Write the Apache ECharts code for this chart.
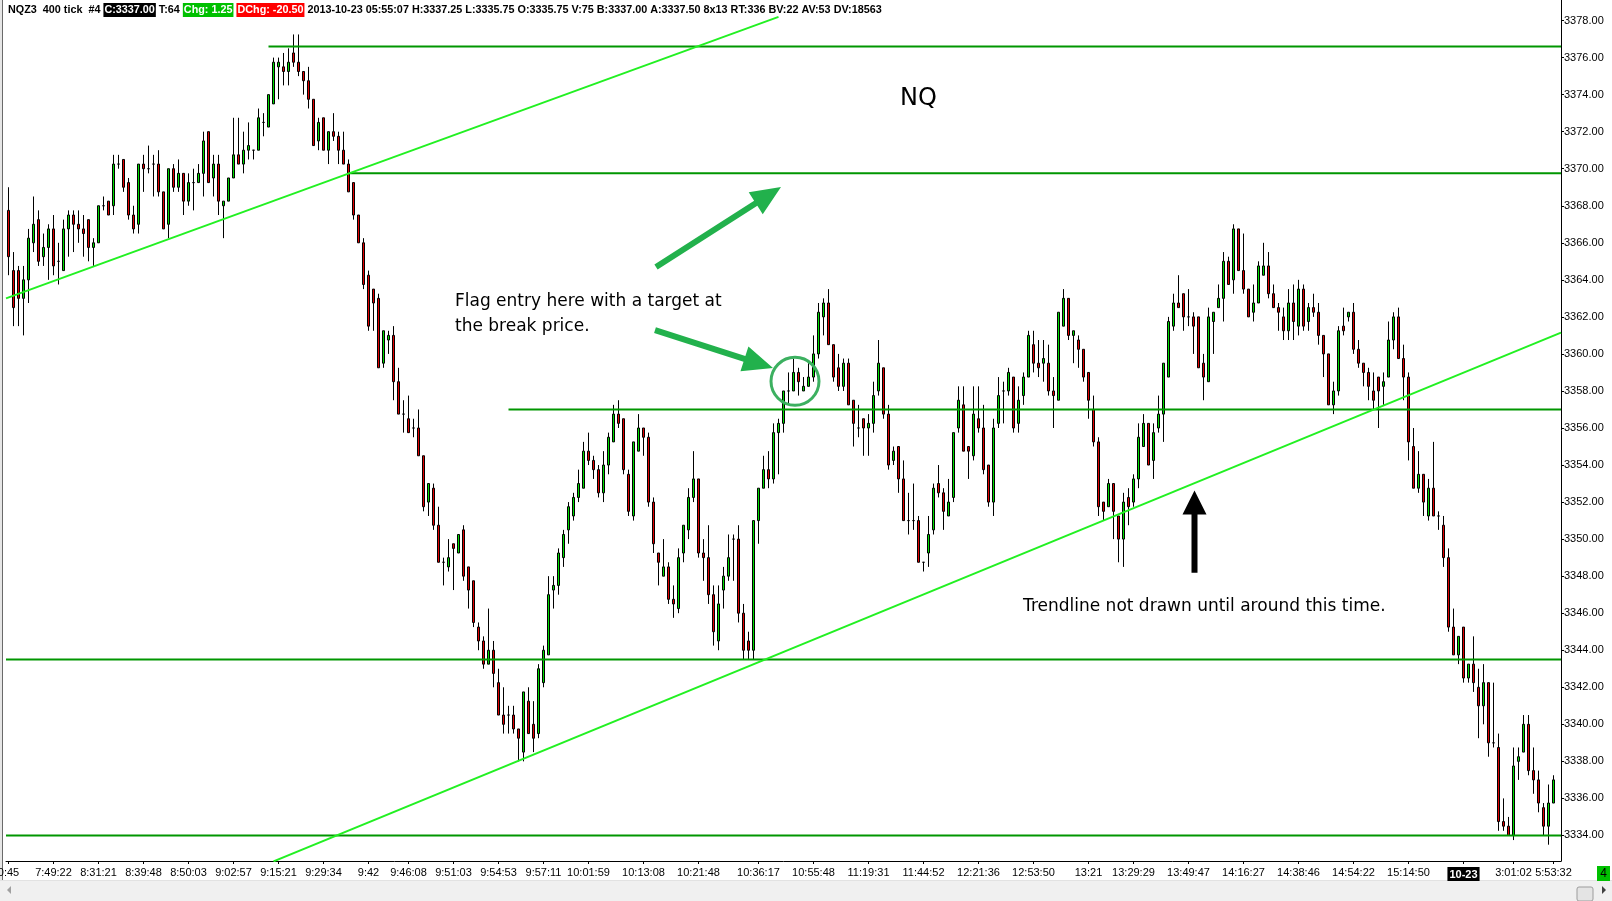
<!DOCTYPE html>
<html><head><meta charset="utf-8">
<script src="https://cdn.jsdelivr.net/npm/echarts@6/dist/echarts.min.js"></script>
<style>html,body{margin:0;padding:0;background:#fff;overflow:hidden}#c{width:1612px;height:901px}</style>
</head><body><div id="c"></div>
<script>
// ---- DATA ----
// each bar: [open, high, low, close]
const bars = [
[3367.75,3369.0,3364.25,3365.25],[3364.5,3365.5,3361.5,3362.5],[3364.5,3364.75,3361.5,3363.0],[3363.0,3364.75,3361.0,3364.0],
[3364.0,3366.75,3362.75,3366.25],[3366.0,3368.5,3365.5,3367.0],[3367.25,3367.75,3364.75,3365.0],[3365.25,3366.5,3364.75,3365.75],
[3365.75,3367.0,3364.0,3366.75],[3366.75,3367.5,3364.25,3364.75],[3365.0,3366.0,3363.75,3365.0],[3364.5,3367.25,3364.5,3366.75],
[3366.75,3367.75,3365.25,3367.5],[3367.5,3367.75,3365.5,3367.0],[3367.0,3367.75,3366.0,3366.75],[3366.75,3367.5,3365.25,3366.5],
[3367.25,3367.25,3365.0,3365.75],[3365.75,3366.25,3364.75,3366.0],[3366.0,3368.0,3366.0,3368.0],[3368.0,3368.5,3367.75,3368.0],
[3368.25,3368.25,3367.5,3367.5],[3368.0,3370.75,3367.5,3370.25],[3370.25,3370.75,3370.0,3370.25],[3370.5,3370.5,3368.75,3369.0],
[3369.25,3369.5,3367.25,3367.5],[3367.5,3368.0,3366.5,3366.75],[3367.0,3370.25,3366.5,3370.25],[3370.25,3370.75,3368.75,3370.0],
[3370.0,3371.25,3369.75,3370.0],[3370.25,3370.75,3368.5,3370.25],[3370.25,3371.0,3368.5,3368.75],[3368.75,3368.75,3366.75,3366.75],
[3367.0,3370.0,3366.25,3370.0],[3370.0,3370.25,3368.75,3369.0],[3369.0,3370.5,3368.75,3369.75],[3369.75,3369.75,3367.5,3368.25],
[3368.25,3369.75,3368.0,3369.25],[3369.25,3370.0,3367.75,3369.25],[3369.25,3370.25,3369.25,3369.75],[3369.75,3372.0,3368.5,3371.5],
[3372.0,3372.0,3369.25,3369.25],[3369.5,3370.75,3368.5,3370.25],[3370.25,3370.75,3367.5,3368.25],[3368.0,3368.25,3366.25,3368.25],
[3368.25,3369.5,3368.25,3369.5],[3369.5,3372.75,3369.5,3370.75],[3370.75,3372.75,3370.25,3370.25],[3370.25,3372.0,3369.75,3371.0],
[3371.0,3372.5,3370.5,3371.25],[3371.0,3371.0,3370.5,3371.0],[3371.0,3373.25,3371.0,3372.75],[3372.5,3373.0,3371.75,3372.5],
[3372.25,3374.0,3372.25,3374.0],[3373.5,3376.0,3373.5,3375.75],[3375.5,3376.0,3373.75,3375.75],[3375.5,3376.25,3374.5,3375.25],
[3375.25,3376.5,3374.5,3375.75],[3376.25,3377.25,3375.5,3375.75],[3375.75,3377.25,3375.0,3375.25],[3375.25,3375.25,3374.0,3374.75],
[3374.75,3375.5,3373.25,3373.75],[3373.75,3373.75,3371.25,3371.25],[3371.5,3372.75,3371.0,3372.5],[3372.75,3372.75,3371.0,3371.0],
[3371.0,3372.0,3370.25,3372.0],[3372.0,3373.0,3371.5,3371.75],[3371.75,3372.0,3370.25,3371.0],[3371.0,3372.0,3370.25,3370.25],
[3370.25,3370.5,3368.75,3368.75],[3369.25,3369.25,3367.25,3367.5],[3367.5,3367.5,3366.0,3366.0],[3366.0,3366.25,3363.5,3363.75],
[3364.25,3364.5,3361.25,3361.5],[3363.5,3363.5,3361.25,3362.75],[3363.0,3363.25,3359.25,3359.25],[3359.5,3361.25,3359.25,3361.25],
[3360.75,3361.25,3360.0,3361.0],[3361.0,3361.5,3357.5,3358.5],[3358.5,3359.25,3356.75,3356.75],[3356.75,3357.5,3355.75,3356.75],
[3356.5,3357.75,3355.75,3355.75],[3356.0,3356.5,3355.5,3356.0],[3356.0,3357.0,3354.5,3354.5],[3354.5,3354.5,3351.5,3351.75],
[3352.0,3353.0,3351.25,3353.0],[3352.75,3353.0,3350.5,3350.75],[3350.75,3351.75,3348.75,3348.75],[3348.75,3349.0,3347.5,3348.75],
[3348.5,3350.0,3348.25,3349.0],[3349.75,3349.75,3347.25,3349.5],[3349.25,3350.25,3349.25,3350.25],[3350.5,3350.75,3347.75,3348.0],
[3348.5,3348.5,3346.25,3347.25],[3347.75,3347.75,3345.25,3345.5],[3345.25,3345.5,3344.0,3344.5],[3344.5,3344.75,3343.0,3343.25],
[3343.25,3346.25,3343.25,3344.0],[3344.0,3344.5,3342.0,3342.75],[3342.25,3343.0,3340.5,3340.5],[3340.5,3342.0,3339.5,3340.0],
[3340.5,3341.0,3339.5,3340.5],[3340.5,3341.0,3339.5,3339.75],[3339.75,3339.75,3338.0,3339.25],[3338.5,3341.75,3338.0,3341.75],
[3341.25,3342.0,3339.5,3339.5],[3340.0,3341.25,3338.5,3339.25],[3339.5,3343.25,3339.25,3343.0],[3342.25,3344.25,3342.0,3344.0],
[3343.75,3348.0,3343.75,3347.0],[3347.25,3348.0,3346.25,3347.5],[3347.5,3349.5,3347.0,3349.25],[3349.0,3350.5,3348.5,3350.25],
[3350.5,3352.0,3349.75,3351.75],[3351.25,3352.5,3351.0,3352.25],[3352.25,3353.75,3352.0,3353.0],[3352.75,3355.25,3352.75,3354.75],
[3354.75,3355.75,3354.0,3354.25],[3354.25,3354.5,3353.25,3353.75],[3353.75,3354.0,3352.25,3352.5],[3352.5,3354.75,3352.0,3354.0],
[3354.0,3355.75,3353.5,3355.5],[3355.25,3357.25,3355.25,3356.75],[3356.75,3357.5,3356.0,3356.25],[3356.5,3356.5,3353.5,3353.75],
[3353.5,3353.75,3351.25,3351.5],[3351.25,3355.25,3351.0,3355.25],[3354.75,3356.75,3354.75,3356.0],[3356.0,3356.0,3354.5,3355.5],
[3355.5,3355.75,3351.75,3352.0],[3352.0,3352.25,3349.25,3349.75],[3349.25,3349.25,3347.5,3348.75],[3348.0,3350.0,3348.0,3348.5],
[3348.5,3348.75,3346.5,3346.75],[3346.75,3347.5,3345.75,3346.5],[3346.25,3349.5,3346.0,3349.0],[3349.25,3350.75,3348.75,3350.75],
[3350.5,3352.75,3350.0,3352.25],[3352.25,3354.75,3352.0,3353.25],[3353.25,3353.25,3349.0,3349.25],[3349.25,3350.0,3347.75,3349.0],
[3349.0,3350.75,3346.5,3347.0],[3347.0,3347.5,3344.25,3345.0],[3344.5,3347.5,3344.0,3346.5],[3347.25,3348.5,3346.25,3348.0],
[3348.0,3350.25,3347.75,3349.0],[3350.0,3350.25,3347.75,3350.0],[3350.0,3350.75,3345.5,3346.0],[3346.0,3346.5,3343.5,3344.0],
[3344.5,3345.0,3343.5,3344.0],[3344.0,3351.0,3343.5,3351.0],[3351.0,3352.75,3349.75,3352.75],[3352.75,3354.5,3352.75,3353.75],
[3353.75,3354.75,3352.75,3353.25],[3353.25,3356.25,3353.0,3355.75],[3355.75,3356.5,3353.5,3356.25],[3356.25,3358.0,3355.75,3358.0],
[3358.0,3359.0,3357.25,3358.0],[3358.0,3359.75,3358.0,3359.0],[3359.0,3359.25,3357.75,3358.5],[3358.0,3358.75,3358.0,3358.25],
[3358.25,3359.5,3358.25,3358.75],[3358.75,3361.0,3358.5,3360.0],[3360.0,3362.75,3359.75,3362.25],[3362.0,3363.0,3361.0,3362.75],
[3362.75,3363.5,3360.5,3360.5],[3360.5,3360.5,3358.5,3358.75],[3359.25,3360.0,3358.0,3358.25],[3358.25,3359.75,3358.0,3359.5],
[3359.5,3359.75,3357.25,3357.25],[3357.5,3357.5,3355.0,3356.25],[3356.0,3357.25,3355.5,3356.0],[3356.5,3356.5,3354.5,3356.0],
[3356.0,3356.75,3354.5,3356.25],[3356.25,3358.5,3355.75,3357.75],[3358.0,3360.75,3357.75,3359.5],[3359.25,3359.25,3356.5,3356.75],
[3356.75,3357.25,3353.75,3354.0],[3354.25,3355.0,3354.0,3354.75],[3355.0,3355.0,3352.5,3353.25],[3353.25,3354.25,3351.0,3351.0],
[3351.0,3352.5,3350.25,3351.0],[3351.0,3353.0,3350.5,3351.0],[3351.0,3351.25,3348.75,3348.75],[3348.75,3348.75,3348.25,3348.75],
[3349.25,3351.25,3348.5,3350.25],[3350.5,3353.0,3350.25,3352.75],[3353.0,3354.0,3352.25,3352.5],[3352.5,3352.75,3350.5,3351.5],
[3351.25,3353.25,3351.25,3352.0],[3352.25,3355.75,3352.0,3355.75],[3356.0,3358.25,3355.75,3357.5],[3357.25,3358.25,3354.75,3354.75],
[3355.0,3355.0,3353.25,3354.75],[3354.5,3358.25,3354.25,3356.75],[3356.5,3358.25,3355.75,3356.0],[3356.0,3357.25,3353.5,3353.75],
[3354.0,3354.0,3351.75,3352.0],[3352.0,3356.5,3351.25,3356.0],[3356.25,3358.75,3356.0,3357.75],[3358.0,3358.5,3356.25,3358.0],
[3358.0,3359.25,3357.75,3359.0],[3358.75,3358.75,3355.75,3356.0],[3356.25,3358.25,3355.75,3357.5],[3357.75,3359.0,3357.25,3358.75],
[3358.75,3361.25,3358.75,3361.0],[3360.5,3361.25,3359.0,3359.5],[3359.5,3360.75,3358.75,3359.25],[3359.5,3360.75,3358.5,3359.75],
[3359.5,3360.5,3357.75,3358.0],[3358.0,3358.75,3356.0,3357.75],[3357.5,3362.25,3357.5,3362.25],[3361.5,3363.5,3361.5,3363.0],
[3363.0,3363.0,3360.75,3361.0],[3361.0,3361.25,3359.5,3361.25],[3360.75,3361.0,3359.25,3360.25],[3360.25,3360.25,3358.5,3358.75],
[3359.0,3359.0,3356.5,3357.5],[3357.0,3357.75,3355.0,3355.25],[3355.25,3355.5,3351.25,3351.75],[3352.0,3352.0,3351.0,3351.5],
[3351.75,3353.25,3351.75,3353.0],[3353.0,3353.0,3350.0,3351.5],[3351.25,3351.25,3348.75,3350.0],[3350.0,3352.5,3348.5,3352.0],
[3352.25,3352.75,3350.75,3351.75],[3352.0,3353.5,3351.75,3353.25],[3353.25,3356.25,3352.75,3355.5],[3355.0,3356.75,3355.0,3356.25],
[3356.25,3356.25,3354.0,3354.0],[3354.25,3356.25,3353.25,3355.75],[3356.0,3357.75,3355.75,3356.75],[3356.75,3359.5,3355.25,3359.5],
[3358.75,3362.0,3358.75,3361.75],[3361.5,3363.25,3361.25,3362.75],[3362.75,3364.25,3362.5,3362.5],[3363.25,3363.25,3361.25,3362.0],
[3362.0,3363.5,3361.5,3362.0],[3362.0,3362.25,3360.0,3361.5],[3362.0,3362.0,3359.25,3359.25],[3359.5,3360.0,3357.5,3358.75],
[3358.5,3362.5,3358.5,3362.0],[3361.75,3362.25,3360.0,3362.25],[3362.5,3363.75,3362.5,3363.0],[3363.0,3365.5,3361.75,3365.0],
[3365.0,3365.25,3363.75,3363.75],[3364.0,3367.0,3363.25,3366.75],[3366.75,3366.75,3364.5,3364.5],[3364.5,3366.5,3363.25,3363.5],
[3363.5,3363.5,3362.0,3362.0],[3362.25,3363.75,3361.75,3362.75],[3362.75,3365.0,3362.75,3364.75],[3364.25,3366.0,3364.25,3364.75],
[3364.75,3365.5,3363.0,3363.25],[3363.25,3363.75,3362.5,3362.5],[3362.5,3362.75,3361.25,3362.25],[3362.0,3362.5,3360.75,3361.25],
[3361.25,3363.5,3360.75,3362.75],[3362.75,3363.75,3360.75,3361.75],[3361.5,3364.0,3361.0,3363.5],[3363.5,3363.75,3361.25,3361.5],
[3361.75,3362.75,3361.25,3362.5],[3362.5,3363.25,3362.0,3362.25],[3362.25,3362.75,3360.5,3361.0],[3361.0,3361.0,3358.75,3360.0],
[3360.0,3360.0,3357.25,3357.25],[3357.25,3358.5,3356.75,3358.0],[3358.0,3361.5,3357.75,3361.25],[3361.5,3362.5,3361.0,3361.25],
[3362.0,3362.25,3361.75,3362.25],[3362.25,3362.75,3360.0,3360.25],[3360.25,3360.75,3359.25,3359.5],[3359.5,3359.5,3358.25,3359.0],
[3359.0,3359.25,3357.5,3358.25],[3358.0,3359.0,3357.0,3357.5],[3358.75,3358.75,3356.0,3358.0],[3358.25,3359.0,3357.25,3358.5],
[3358.75,3361.75,3358.75,3360.75],[3360.75,3362.25,3360.25,3362.0],[3362.0,3362.5,3359.75,3359.75],[3359.75,3360.5,3357.5,3358.75],
[3358.75,3359.0,3354.25,3355.25],[3355.0,3356.0,3352.75,3352.75],[3352.75,3354.75,3352.5,3353.5],[3353.5,3353.5,3351.25,3352.0],
[3351.25,3353.25,3351.0,3352.75],[3352.75,3355.25,3351.25,3351.25],[3351.25,3351.5,3350.5,3351.25],[3350.75,3351.25,3348.5,3349.0],
[3349.0,3349.5,3345.0,3345.25],[3345.25,3346.25,3343.75,3343.75],[3343.75,3344.75,3343.25,3344.75],[3345.25,3345.25,3342.25,3342.5],
[3342.5,3343.25,3342.25,3343.25],[3343.25,3344.75,3341.75,3342.25],[3342.0,3343.0,3339.25,3341.0],[3341.0,3343.25,3340.0,3342.25],
[3342.25,3342.25,3338.25,3339.0],[3339.0,3342.25,3338.75,3339.0],[3338.75,3339.5,3334.25,3334.75],[3334.75,3336.0,3334.25,3334.5],
[3334.5,3335.0,3334.0,3334.0],[3334.0,3338.75,3333.75,3337.75],[3338.0,3338.75,3337.0,3338.25],[3338.5,3340.5,3338.5,3340.0],
[3340.0,3340.5,3337.25,3337.5],[3337.5,3338.75,3336.25,3337.0],[3337.0,3337.5,3335.25,3335.75],[3335.5,3335.75,3334.0,3334.5],
[3334.5,3336.75,3333.5,3335.75],[3335.75,3337.25,3335.75,3337.0]
];
const tickIndex  = [0,9,18,27,36,45,54,63,72,80,89,98,107,116,127,138,150,161,172,183,194,205,216,225,236,247,258,269,280,291,301,309];
const tickLabels = ['0:45','7:49:22','8:31:21','8:39:48','8:50:03','9:02:57','9:15:21','9:29:34','9:42','9:46:08','9:51:03','9:54:53','9:57:11','10:01:59','10:13:08','10:21:48','10:36:17','10:55:48','11:19:31','11:44:52','12:21:36','12:53:50','13:21','13:29:29','13:49:47','14:16:27','14:38:46','14:54:22','15:14:50','10-23','3:01:02','5:53:32'];
const priceTicks = [3334,3336,3338,3340,3342,3344,3346,3348,3350,3352,3354,3356,3358,3360,3362,3364,3366,3368,3370,3372,3374,3376,3378];
const levelPrices = [3376.6, 3369.75, 3357.0, 3343.5, 3334.0];
const levelStarts = [52, 68, 100, -0.5, -0.5];
const trendUpper = [[-0.5, 3363.0], [154, 3378.2]];
const trendLower = [[53, 3332.6], [310.5, 3361.15]];
const headerText = {
  sym: 'NQZ3  400 tick  #4 ', close: 'C:3337.00', ticks: ' T:64 ', chg: 'Chg: 1.25', dchg: 'DChg: -20.50',
  rest: ' 2013-10-23 05:55:07 H:3337.25 L:3335.75 O:3335.75 V:75 B:3337.00 A:3337.50 8x13 RT:336 BV:22 AV:53 DV:18563'
};
// annotations in data space [barIndex, price]
const arrowsSpec = [
  {from: [129.5, 3364.69], to: [154.5, 3369.01], color: '#22b14c'},
  {from: [129.3, 3361.29], to: [152.9, 3359.24], color: '#22b14c'},
  {from: [237.2, 3348.19], to: [237.2, 3352.63], color: '#000000'}
];
const circleSpec = {at: [157.3, 3358.52]};
const textsSpec = [
  {at: [182, 3373.78], text: 'NQ', size: 24, align: 'center'},
  {at: [89.3, 3362.8], text: 'Flag entry here with a target at', size: 17, align: 'left'},
  {at: [89.3, 3361.5], text: 'the break price.', size: 17, align: 'left'},
  {at: [202.9, 3346.34], text: 'Trendline not drawn until around this time.', size: 17, align: 'left'}
];

// ---- CHART ----
const N = bars.length;
const categories = [];
for (let i = 0; i <= N; i++) categories.push('');
tickIndex.forEach((ix, k) => { categories[ix] = tickLabels[k]; });
const tickSet = new Set(tickIndex);
const candleData = bars.map(b => [b[0], b[3], b[2], b[1]]);
const lastClose = bars[N - 1][3];
const AX = '"Liberation Sans",Arial,sans-serif';
const SANS = '"DejaVu Sans",Verdana,sans-serif';
const AXSIZE = 11;

const chart = echarts.init(document.getElementById('c'), null, {renderer: 'canvas'});

const lineSeries = [];
levelPrices.forEach((p, k) => lineSeries.push({
  type: 'line', xAxisIndex: 1, yAxisIndex: 0, data: [[levelStarts[k], p], [N + 0.5, p]],
  symbol: 'none', silent: true, z: 4, lineStyle: {color: '#009600', width: 2}
}));
[trendUpper, trendLower].forEach(t => lineSeries.push({
  type: 'line', xAxisIndex: 1, yAxisIndex: 0, data: t, symbol: 'none', silent: true, z: 4,
  lineStyle: {color: '#22f022', width: 2}
}));

const rt = {fontFamily: AX, fontSize: 10.8, color: '#000'};
chart.setOption({
  animation: false,
  backgroundColor: '#ffffff',
  title: {
    left: 8, top: 3, padding: 0,
    text: '{a|' + headerText.sym + '}{b|' + headerText.close + '}{a|' + headerText.ticks + '}{g|' + headerText.chg + '}{a| }{r|' + headerText.dchg + '}{a|' + headerText.rest + '}',
    textStyle: {rich: {
      a: Object.assign({}, rt),
      b: Object.assign({}, rt, {color: '#fff', backgroundColor: '#000', padding: [2, 1, 1, 1]}),
      g: Object.assign({}, rt, {color: '#fff', backgroundColor: '#00c000', padding: [2, 1, 1, 1]}),
      r: Object.assign({}, rt, {color: '#fff', backgroundColor: '#ff0000', padding: [2, 1, 1, 1]})
    }}
  },
  grid: {left: 6, top: 0, width: 1555, height: 861, containLabel: false, outerBoundsMode: 'none'},
  xAxis: [
    {
      type: 'category', data: categories, boundaryGap: true,
      axisLine: {onZero: false, lineStyle: {color: '#000', width: 1}},
      axisTick: {show: true, alignWithLabel: true, interval: (i) => tickSet.has(i), length: 3, lineStyle: {color: '#000'}},
      axisLabel: {
        interval: (i) => tickSet.has(i), color: '#000', fontFamily: AX, fontSize: AXSIZE, margin: 6,
        showMaxLabel: true, showMinLabel: true, hideOverlap: false,
        formatter: (v) => v === '10-23' ? '{d|10-23}' : v,
        rich: {d: {backgroundColor: '#000', color: '#fff', fontWeight: 'bold', fontFamily: AX, fontSize: AXSIZE, padding: [2, 2, 1, 2]}}
      },
      splitLine: {show: false}
    },
    {type: 'value', min: -0.5, max: N + 0.5, show: false, axisLine: {onZero: false}}
  ],
  yAxis: {
    type: 'value', position: 'right', min: 3332.62, max: 3379.11, scale: true,
    axisLine: {show: true, onZero: false, lineStyle: {color: '#000', width: 1}},
    axisTick: {show: true, length: 3, customValues: priceTicks, lineStyle: {color: '#000'}},
    axisLabel: {customValues: priceTicks, formatter: (v) => v.toFixed(2), color: '#000', fontFamily: AX, fontSize: AXSIZE, margin: 3, showMinLabel: true, showMaxLabel: true},
    splitLine: {show: false}
  },
  series: [
    {
      type: 'candlestick', xAxisIndex: 0, yAxisIndex: 0, data: candleData, barWidth: 3, z: 2,
      itemStyle: {color: '#00dd00', color0: '#e00000', borderColor: '#000', borderColor0: '#000', borderColorDoji: '#000', borderWidth: 1},
      markLine: {
        silent: true, symbol: 'none', animation: false, lineStyle: {opacity: 0},
        label: {show: true, position: 'end', distance: 4, formatter: () => lastClose.toFixed(2),
          backgroundColor: '#000', color: '#fff', fontWeight: 'bold', fontFamily: AX, fontSize: AXSIZE, padding: [2, 1, 1, 1]},
        data: [{yAxis: lastClose}]
      }
    }
  ].concat(lineSeries)
});

function px(pt) { return chart.convertToPixel({xAxisIndex: 1, yAxisIndex: 0}, pt); }
function arrowPoly(t, h, shaft, headLen, headW) {
  const dx = h[0] - t[0], dy = h[1] - t[1], L = Math.hypot(dx, dy);
  const ux = dx / L, uy = dy / L, nx = -uy, ny = ux;
  const bx = h[0] - ux * headLen, by = h[1] - uy * headLen;
  return [
    [t[0] + nx * shaft / 2, t[1] + ny * shaft / 2], [bx + nx * shaft / 2, by + ny * shaft / 2],
    [bx + nx * headW / 2, by + ny * headW / 2], [h[0], h[1]],
    [bx - nx * headW / 2, by - ny * headW / 2], [bx - nx * shaft / 2, by - ny * shaft / 2],
    [t[0] - nx * shaft / 2, t[1] - ny * shaft / 2]
  ];
}
const g = [];
// window frame left edge
g.push({type: 'rect', shape: {x: 0, y: 0, width: 2, height: 880}, style: {fill: '#e6e6e6'}, silent: true});
g.push({type: 'rect', shape: {x: 2, y: 0, width: 1, height: 880}, style: {fill: '#6a6a6a'}, silent: true});
// scrollbar
g.push({type: 'rect', shape: {x: 0, y: 880, width: 1612, height: 21}, style: {fill: '#f0f0f0'}, silent: true});
g.push({type: 'rect', shape: {x: 0, y: 880, width: 1612, height: 1}, style: {fill: '#e2e2e2'}, silent: true});
g.push({type: 'polygon', shape: {points: [[11, 886], [11, 894], [7, 890]]}, style: {fill: '#a0a0a0'}, silent: true});
g.push({type: 'rect', shape: {x: 1577, y: 887, width: 16, height: 14, r: 2}, style: {fill: '#e4e4e4', stroke: '#9c9c9c', lineWidth: 1}, silent: true});
g.push({type: 'polygon', shape: {points: [[1602, 886], [1602, 894], [1606, 890]]}, style: {fill: '#404040'}, silent: true});
// green counter box
g.push({type: 'rect', shape: {x: 1597, y: 866, width: 13, height: 15}, style: {fill: '#00c000'}, silent: true});
g.push({type: 'text', x: 1603.5, y: 874, style: {text: '4', fill: '#000', font: '12px ' + AX, align: 'center', verticalAlign: 'middle', textAlign: 'center', textVerticalAlign: 'middle'}, silent: true});
// arrows
arrowsSpec.forEach((a) => {
  const t = px(a.from), h = px(a.to);
  const isBlack = a.color === '#000000';
  g.push({type: 'polygon', z: 50, silent: true,
    shape: {points: arrowPoly(t, h, 6, isBlack ? 24 : 30, isBlack ? 24 : 26)},
    style: {fill: a.color, lineJoin: 'round'}});
});
// circle
const cc = px(circleSpec.at);
g.push({type: 'circle', z: 50, silent: true, shape: {cx: cc[0], cy: cc[1], r: 24}, style: {fill: 'none', stroke: '#3cb060', lineWidth: 3}});
// texts
textsSpec.forEach(t => {
  const p = px(t.at);
  g.push({type: 'text', z: 50, silent: true, x: p[0], y: p[1],
    style: {text: t.text, fill: '#000', font: t.size + 'px ' + SANS, align: t.align, textAlign: t.align, verticalAlign: 'middle', textVerticalAlign: 'middle'}});
});
chart.setOption({graphic: g});
</script>
</body></html>
